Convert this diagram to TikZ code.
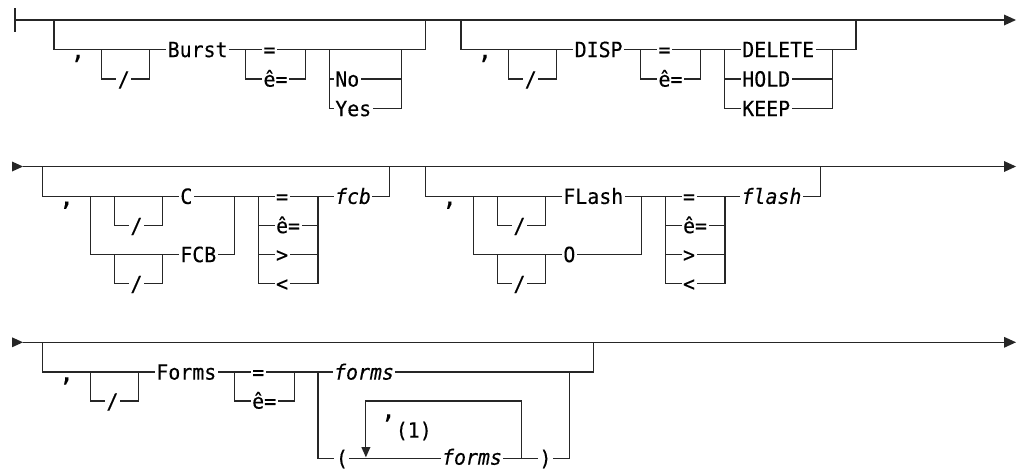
\documentclass[tikz,border=0pt]{standalone}
\usepackage{fontspec}
\newfontfamily\rrfont[FakeStretch=0.947,FakeBold=0.3]{DejaVu Sans Mono}
\newfontfamily\cmfont[FakeBold=0.3]{DejaVu Sans Mono}
\begin{document}
\begin{tikzpicture}[x=1pt,y=-1pt,
  trk/.style={line width=1.1pt, draw=black!85},
  lbl/.style={font=\rrfont\fontsize{21}{23}\selectfont, fill=white, inner xsep=1.5pt, inner ysep=0pt, text height=12.5pt, text depth=4pt, anchor=base, yshift=-7.6pt},
  var/.style={lbl, font=\rrfont\itshape\fontsize{21}{23}\selectfont},
  low/.style={text depth=1pt},
  cma/.style={lbl, font=\cmfont\fontsize{25}{26}\selectfont, inner xsep=0pt, text height=8pt, text depth=6pt, yshift=-1.5pt},
  cmb/.style={cma, text height=10pt, text depth=5pt, yshift=-8pt},
  fn/.style={lbl, fill=none},
  tip/.style={fill=black!85},
]
\useasboundingbox (0,0) rectangle (1018,469);

% ================= Row 1 =================
\draw[trk] (15,8) -- (15,32);
\draw[trk] (15,20) -- (1005,20);
\fill[tip] (1004,14.5) -- (1016,20) -- (1004,25.5) -- cycle;
% branch Burst
\draw[trk] (54,20) -- (54,49.5) -- (425.07,49.5) -- (425.07,20);
\draw[trk] (101.88,49.5) -- (101.88,79) -- (149.76,79) -- (149.76,49.5);
\draw[trk] (245.52,49.5) -- (245.52,79) -- (305.37,79) -- (305.37,49.5);
\draw[trk] (329.31,49.5) -- (329.31,108.5) -- (401.13,108.5) -- (401.13,49.5);
\draw[trk] (329.31,79) -- (401.13,79);
% branch DISP
\draw[trk] (460.98,20) -- (460.98,49.5) -- (856,49.5) -- (856,20);
\draw[trk] (508.86,49.5) -- (508.86,79) -- (556.74,79) -- (556.74,49.5);
\draw[trk] (640.53,49.5) -- (640.53,79) -- (700.38,79) -- (700.38,49.5);
\draw[trk] (724.32,49.5) -- (724.32,108.5) -- (832.05,108.5) -- (832.05,49.5);
\draw[trk] (724.32,79) -- (832.05,79);

\node[cma] (c1) at (77.94,49.5) {,};
\node[lbl] (s1) at (123.8,79) {/};
\node[lbl] (burst) at (197.64,49.5) {Burst};
\node[lbl] (eq1) at (269.46,49.5) {=};
\node[lbl] (ne1) at (275.45,79) {ê=};
\node[lbl] (no) at (347.27,79) {No};
\node[lbl] (yes) at (353.25,108.5) {Yes};
\node[cma] (c2) at (484.92,49.5) {,};
\node[lbl] (s2) at (530.8,79) {/};
\node[lbl] (disp) at (598.64,49.5) {DISP};
\node[lbl] (eq2) at (664.47,49.5) {=};
\node[lbl] (ne2) at (670.46,79) {ê=};
\node[lbl] (delete) at (778.19,49.5) {DELETE};
\node[lbl] (hold) at (766.22,79) {HOLD};
\node[lbl] (keep) at (766.22,108.5) {KEEP};

% ================= Row 2 =================
\fill[tip] (12,161.5) -- (23,166.5) -- (12,171.5) -- cycle;
\draw[trk] (23,166.5) -- (1005,166.5);
\fill[tip] (1004,161) -- (1016,166.5) -- (1004,172) -- cycle;
% branch C / FCB
\draw[trk] (42.7,166.5) -- (42.7,196.3) -- (389.83,196.3) -- (389.83,166.5);
\draw[trk] (90.58,196.3) -- (90.58,254.5) -- (234.22,254.5) -- (234.22,196.3);
\draw[trk] (114.52,196.3) -- (114.52,225.5) -- (162.4,225.5) -- (162.4,196.3);
\draw[trk] (114.52,254.5) -- (114.52,283.5) -- (162.4,283.5) -- (162.4,254.5);
\draw[trk] (258.16,196.3) -- (258.16,283.5) -- (318.01,283.5) -- (318.01,196.3);
\draw[trk] (258.16,225.5) -- (318.01,225.5);
\draw[trk] (258.16,254.5) -- (318.01,254.5);
% branch FLash / O
\draw[trk] (425.74,166.5) -- (425.74,196.3) -- (820.75,196.3) -- (820.75,166.5);
\draw[trk] (473.62,196.3) -- (473.62,254.5) -- (641.2,254.5) -- (641.2,196.3);
\draw[trk] (497.56,196.3) -- (497.56,225.5) -- (545.44,225.5) -- (545.44,196.3);
\draw[trk] (497.56,254.5) -- (497.56,283.5) -- (545.44,283.5) -- (545.44,254.5);
\draw[trk] (665.14,196.3) -- (665.14,283.5) -- (724.99,283.5) -- (724.99,196.3);
\draw[trk] (665.14,225.5) -- (724.99,225.5);
\draw[trk] (665.14,254.5) -- (724.99,254.5);

\node[cma] (c3) at (66.64,196.3) {,};
\node[lbl] (s3) at (136.5,225.5) {/};
\node[lbl] (cc) at (186.34,196.3) {C};
\node[lbl] (s4) at (136.5,283.5) {/};
\node[lbl] (fcbk) at (198.31,254.5) {FCB};
\node[lbl] (eq3) at (282.1,196.3) {=};
\node[lbl] (ne3) at (288.09,225.5) {ê=};
\node[lbl] (gt3) at (282.1,254.5) {>};
\node[lbl] (lt3) at (282.1,283.5) {<};
\node[var] (fcb) at (353,196.3) {fcb};
\node[cma] (c4) at (449.68,196.3) {,};
\node[lbl] (s5) at (519.5,225.5) {/};
\node[lbl] (flashk) at (593.32,196.3) {FLash};
\node[lbl] (s6) at (519.5,283.5) {/};
\node[lbl] (ok) at (569.38,254.5) {O};
\node[lbl] (eq4) at (689.08,196.3) {=};
\node[lbl] (ne4) at (695.07,225.5) {ê=};
\node[lbl] (gt4) at (689.08,254.5) {>};
\node[lbl] (lt4) at (689.08,283.5) {<};
\node[var] (flash) at (771.5,196.3) {flash};

% ================= Row 3 =================
\fill[tip] (12,337.3) -- (23,342.3) -- (12,347.3) -- cycle;
\draw[trk] (23,342.3) -- (1005,342.3);
\fill[tip] (1004,336.8) -- (1016,342.3) -- (1004,347.8) -- cycle;
\draw[trk] (42.7,342.3) -- (42.7,372) -- (593.32,372) -- (593.32,342.3);
\draw[trk] (90.58,372) -- (90.58,401) -- (138.46,401) -- (138.46,372);
\draw[trk] (234.22,372) -- (234.22,401) -- (294.07,401) -- (294.07,372);
\draw[trk] (318.01,372) -- (318.01,458.5) -- (569.38,458.5) -- (569.38,372);
\draw[trk] (365.89,447.5) -- (365.89,401) -- (521.5,401) -- (521.5,458.5);
\fill[tip] (361.3,447) -- (370.5,447) -- (365.89,457.3) -- cycle;

\node[cma] (c5) at (66.64,372) {,};
\node[lbl] (s7) at (112.5,401) {/};
\node[lbl] (formsk) at (186.34,372) {Forms};
\node[lbl] (eq5) at (258.16,372) {=};
\node[lbl] (ne5) at (264.15,401) {ê=};
\node[var] (forms1) at (364,372) {forms};
\node[lbl,low,yshift=0.6pt] (lp) at (341.92,458.5) {(};
\node[cmb] (c6) at (388.5,401) {,};
\node[fn] (note) at (413.8,430) {(1)};
\node[var,low,yshift=1.4pt] (forms2) at (472,458.5) {forms};
\node[lbl,low,yshift=0.6pt] (rp) at (545.44,458.5) {)};
\end{tikzpicture}
\end{document}
